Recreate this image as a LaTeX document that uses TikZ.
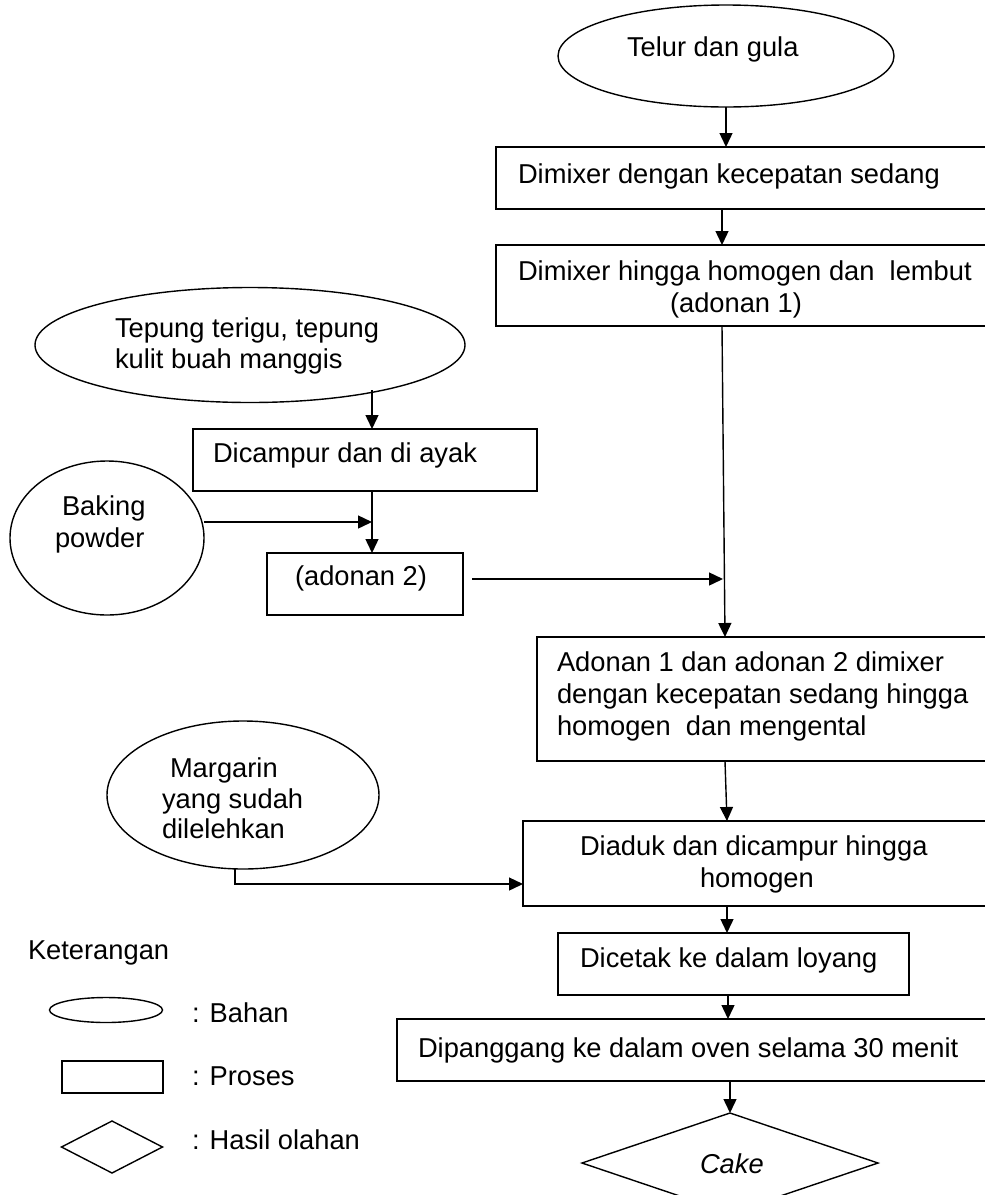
\documentclass[tikz,border=0pt]{standalone}
\usepackage{fontspec}
\setmainfont{Liberation Sans}
\usetikzlibrary{arrows.meta,shapes.geometric}
\begin{document}
\begin{tikzpicture}[x=1pt,y=-1pt,
  line width=1.4pt,
  every node/.style={inner sep=0pt, outer sep=0pt},
  txt/.style={font=\fontsize{27.3}{31}\selectfont, anchor=base west},
  proc/.style={draw, rectangle, anchor=north west},
  bahan/.style={draw, ellipse},
  hasil/.style={draw, diamond},
  arr/.style={-{Triangle[length=14pt,width=13pt]}},
  ]
\useasboundingbox (0,0) rectangle (985,1195);
\clip (0,0) rectangle (985,1195);

% ---------- ingredients (ellipses) ----------
\node[bahan, minimum width=336, minimum height=102] (telur) at (726,56) {};
\node[bahan, minimum width=430, minimum height=115] (tepung) at (250,345) {};
\node[bahan, minimum width=194, minimum height=154] (baking) at (107,538) {};
\node[bahan, minimum width=272, minimum height=148] (margarin) at (243,795) {};

% ---------- process steps (rectangles) ----------
\node[proc, minimum width=520, minimum height=62]  (b1) at (496,147) {};
\node[proc, minimum width=520, minimum height=81]  (b2) at (496,245) {};
\node[proc, minimum width=344, minimum height=62]  (campur) at (193,429) {};
\node[proc, minimum width=196, minimum height=62]  (adonan2) at (267,553) {};
\node[proc, minimum width=480, minimum height=124] (b3) at (537,637) {};
\node[proc, minimum width=490, minimum height=85]  (b4) at (523,821) {};
\node[proc, minimum width=351, minimum height=62]  (b5) at (558,933) {};
\node[proc, minimum width=620, minimum height=62]  (b6) at (397,1019) {};

% ---------- product (diamond) ----------
\node[hasil, minimum width=296, minimum height=100] (cake) at (730,1163) {};

% ---------- texts ----------
\node[txt] (t-telur) at (627,56) {Telur dan gula};
\node[txt] (t-b1) at (518,183) {Dimixer dengan kecepatan sedang};
\node[txt] (t-b2a) at (518,280) {Dimixer hingga homogen dan~ lembut};
\node[txt] (t-b2b) at (670,312) {(adonan 1)};
\node[txt] (t-tep1) at (115,337) {Tepung terigu, tepung};
\node[txt] (t-tep2) at (115,368) {kulit buah manggis};
\node[txt] (t-campur) at (213,462) {Dicampur dan di ayak};
\node[txt] (t-bak1) at (62,515) {Baking};
\node[txt] (t-bak2) at (55,547) {powder};
\node[txt] (t-ad2) at (295,585) {(adonan 2)};
\node[txt] (t-b3a) at (557,671) {Adonan 1 dan adonan 2 dimixer};
\node[txt] (t-b3b) at (557,703) {dengan kecepatan sedang hingga};
\node[txt] (t-b3c) at (557,735) {homogen~ dan mengental};
\node[txt] (t-mar1) at (170,777) {Margarin};
\node[txt] (t-mar2) at (162,808) {yang sudah};
\node[txt] (t-mar3) at (162,838) {dilelehkan};
\node[txt] (t-b4a) at (580,855) {Diaduk dan dicampur hingga};
\node[txt] (t-b4b) at (700,887) {homogen};
\node[txt] (t-b5) at (580,967) {Dicetak ke dalam loyang};
\node[txt] (t-b6) at (418,1057) {Dipanggang ke dalam oven selama 30 menit};
\node[txt, font=\fontsize{27.3}{31}\selectfont\itshape] (t-cake) at (700,1173) {Cake};

% ---------- legend ----------
\node[txt] (t-ket) at (28,959) {Keterangan};
\node[bahan, minimum width=113, minimum height=25] (lg-bahan) at (106,1010) {};
\node[proc, minimum width=101, minimum height=32] (lg-proses) at (62,1061) {};
\node[hasil, minimum width=101, minimum height=52] (lg-hasil) at (112,1147) {};
\node[txt] (t-lg1) at (192,1022) {: Bahan};
\node[txt] (t-lg2) at (192,1085) {: Proses};
\node[txt] (t-lg3) at (192,1149) {: Hasil olahan};

% ---------- helper points for connectors ----------
\coordinate (xa) at (722,0);
\coordinate (xb) at (725,0);
\coordinate (xc) at (727,0);
\coordinate (xd) at (728,0);
\coordinate (xe) at (730,0);
\coordinate (tp) at (372,390);
\coordinate (jb) at (372,522);
\coordinate (ja) at (723,579);
\coordinate (mj) at (235,884);

% ---------- connectors ----------
\draw[arr] (telur.south) -- (telur.south |- b1.north);
\draw[arr] (b1.south -| xa) -- (b2.north -| xa);
\draw[arr] (b2.south -| xa) -- (b3.north -| xb);
\draw[arr] (tp) -- (tp |- campur.north);
\draw[arr] (campur.south -| tp) -- (adonan2.north -| tp);
\draw[arr] (baking.east |- jb) -- (jb);
\draw[arr] ([xshift=9pt]adonan2.east |- ja) -- (ja);
\draw[arr] (b3.south -| xb) -- (b4.north -| xc);
\draw[arr] (margarin.south -| mj) -- (mj) -- (mj -| b4.west);
\draw[arr] (b4.south -| xc) -- (b5.north -| xc);
\draw[arr] (b5.south -| xd) -- (b6.north -| xd);
\draw[arr] (b6.south -| xe) -- (cake.north -| xe);
\end{tikzpicture}
\end{document}
